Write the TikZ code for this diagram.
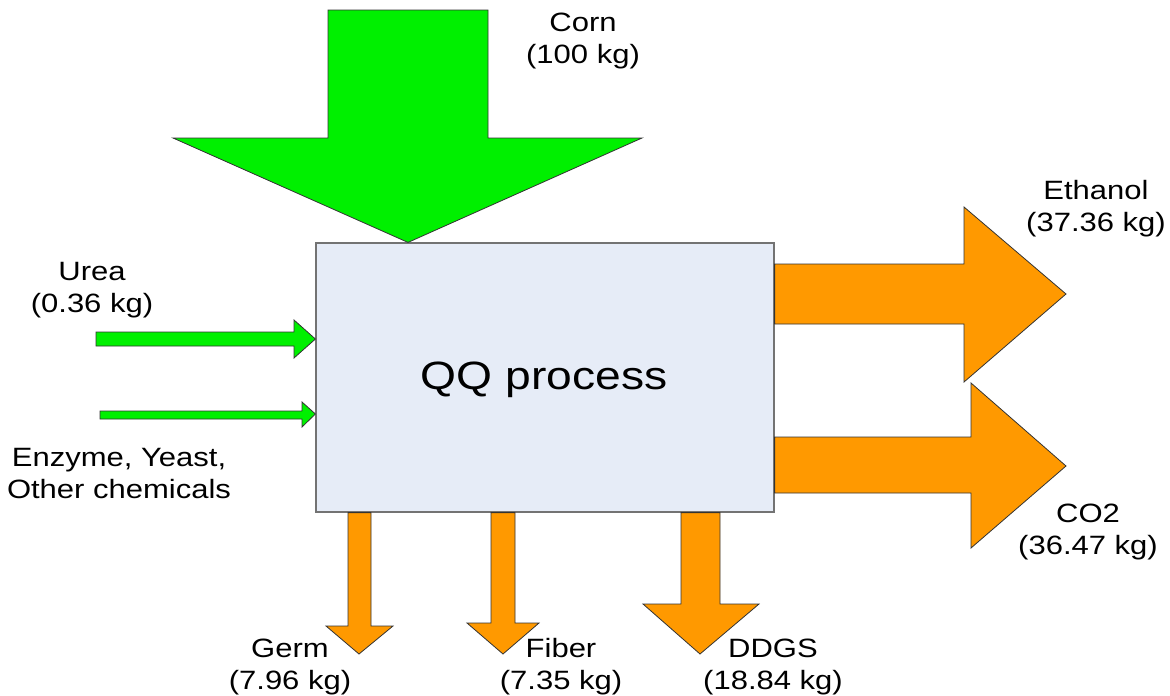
\documentclass[tikz,border=0pt]{standalone}
\usepackage{fontspec}
\setmainfont{Liberation Sans}[FakeStretch=1.17]
\usepackage{tikz}

\definecolor{feedgreen}{RGB}{0,240,0}
\definecolor{prodorange}{RGB}{255,153,0}
\definecolor{boxblue}{RGB}{230,236,247}

\tikzset{
	feed/.style={fill=feedgreen, draw=black!80, line width=.8pt},
	product/.style={fill=prodorange, draw=black!80, line width=.8pt},
	lbl/.style={align=center, font=\fontsize{26.5}{32}\selectfont, inner sep=0pt},
}

\begin{document}
\begin{tikzpicture}[x=1pt, y=-1pt]
	\useasboundingbox (0,0) rectangle (1170,696);

	% the process box
	\node[draw=black!55, fill=boxblue, line width=1.2pt, minimum width=458pt, minimum height=269pt] (proc) at (545,377.5) {};
	\node[font=\fontsize{39.5}{44}\selectfont] (proctext) at (544,380) {QQ process};

	% inputs
	\draw[feed] (328,10) -- (488,10) -- (488,138) -- (642,138) -- (proc.north -| 408,0) -- (173,138) -- (328,138) -- cycle;
	\draw[feed] (96,332) -- (294,332) -- (294,320) -- (proc.west |- 0,339) -- (294,358) -- (294,346) -- (96,346) -- cycle;
	\draw[feed] (100,411) -- (302,411) -- (302,402) -- (proc.west |- 0,414) -- (302,427) -- (302,419) -- (100,419) -- cycle;

	% outputs
	\draw[product] (proc.east |- 0,264) -- (964,264) -- (964,207) -- (1066,294) -- (964,382) -- (964,324) -- (proc.east |- 0,324) -- cycle;
	\draw[product] (proc.east |- 0,437) -- (971,437) -- (971,383) -- (1066,466) -- (971,548) -- (971,493) -- (proc.east |- 0,493) -- cycle;
	\draw[product] (proc.south -| 348,0) -- (proc.south -| 371,0) -- (371,626) -- (393,626) -- (359,654) -- (326,626) -- (348,626) -- cycle;
	\draw[product] (proc.south -| 491,0) -- (proc.south -| 515,0) -- (515,623) -- (539,623) -- (503,654) -- (467,623) -- (491,623) -- cycle;
	\draw[product] (proc.south -| 681,0) -- (proc.south -| 720,0) -- (720,604) -- (759,604) -- (700,654) -- (643,604) -- (681,604) -- cycle;

	% labels
	\node[lbl] (corn) at (583,41) {Corn\\(100 kg)};
	\node[lbl] (urea) at (92,290) {Urea\\(0.36 kg)};
	\node[lbl] (enz) at (119,474) {Enzyme, Yeast,\\Other chemicals};
	\node[lbl] (eth) at (1096,209) {Ethanol\\(37.36 kg)};
	\node[lbl] (co2) at (1088,532) {CO2\\(36.47 kg)};
	\node[lbl] (germ) at (290,667) {Germ\\(7.96 kg)};
	\node[lbl] (fiber) at (561,667) {Fiber\\(7.35 kg)};
	\node[lbl] (ddgs) at (773,667) {DDGS\\(18.84 kg)};
\end{tikzpicture}
\end{document}
